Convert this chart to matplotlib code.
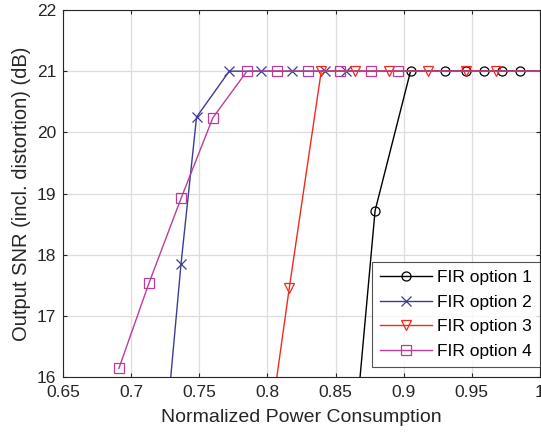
import matplotlib
matplotlib.use("Agg")
import matplotlib.pyplot as plt

plt.rcParams['font.family'] = ['Liberation Sans', 'DejaVu Sans']

x1 = [0.855, 0.879, 0.905, 0.930, 0.946, 0.959, 0.972, 0.985, 1.02]
y1 = [12.8, 18.72, 21.0, 21.0, 21.0, 21.0, 21.0, 21.0, 21.0]

x2 = [0.725, 0.7366, 0.748, 0.772, 0.795, 0.818, 0.842, 0.858, 1.02]
y2 = [15.0, 17.85, 20.25, 21.0, 21.0, 21.0, 21.0, 21.0, 21.0]

x3 = [0.800, 0.816, 0.8395, 0.864, 0.889, 0.918, 0.946, 0.968, 1.02]
y3 = [14.9, 17.45, 21.0, 21.0, 21.0, 21.0, 21.0, 21.0, 21.0]

x4 = [0.691, 0.713, 0.7366, 0.760, 0.785, 0.807, 0.830, 0.853, 0.876, 0.896, 1.02]
y4 = [16.14, 17.53, 18.92, 20.24, 21.0, 21.0, 21.0, 21.0, 21.0, 21.0, 21.0]

labels = ['FIR option 1', 'FIR option 2', 'FIR option 3', 'FIR option 4']
colors = ['#000000', '#3C3C96', '#F02A1E', '#BE3C96']
markers = ['o', 'x', 'v', 's']
xticks = [0.65, 0.7, 0.75, 0.8, 0.85, 0.9, 0.95, 1]
xticklabels = ['0.65', '0.7', '0.75', '0.8', '0.85', '0.9', '0.95', '1']
yticks = [16, 17, 18, 19, 20, 21, 22]

fig = plt.figure(figsize=(5.41, 4.40), dpi=100)
ax = fig.add_axes([63/541, 1 - 377/440, (540 - 63)/541, (377 - 10)/440])

for xs, ys, c, m, lab in zip([x1, x2, x3, x4], [y1, y2, y3, y4], colors, markers, labels):
    ax.plot(xs, ys, color=c, marker=m, markersize=6.5, markerfacecolor='none',
            markeredgecolor=c, linewidth=1.0, markeredgewidth=0.9, label=lab)

ax.set_xlim(0.65, 1.0)
ax.set_ylim(16, 22)
ax.set_xticks(xticks)
ax.set_xticklabels(xticklabels)
ax.set_yticks(yticks)
ax.grid(True, color='#DDDDDD', linewidth=0.9)
ax.set_axisbelow(True)
ax.tick_params(direction='in', labelsize=12.5, colors='#262626', length=3, top=True, right=True)
ax.tick_params(axis='x', pad=6)
ax.tick_params(axis='y', pad=5)
for s in ax.spines.values():
    s.set_color('#262626')
    s.set_linewidth(0.8)
ax.set_xlabel('Normalized Power Consumption', fontsize=14, color='#262626', labelpad=6)
ax.set_ylabel('Output SNR (incl. distortion) (dB)', fontsize=14.5, color='#262626', labelpad=4)

leg = ax.legend(loc='lower right', bbox_to_anchor=(1.0, 10/367), borderaxespad=0,
                fontsize=12.5, frameon=True, fancybox=False,
                edgecolor='#262626', handlelength=3.0, handletextpad=0.3,
                borderpad=0.45, labelspacing=0.55)
leg.get_frame().set_linewidth(0.8)

fig.savefig('out.png', dpi=100)
